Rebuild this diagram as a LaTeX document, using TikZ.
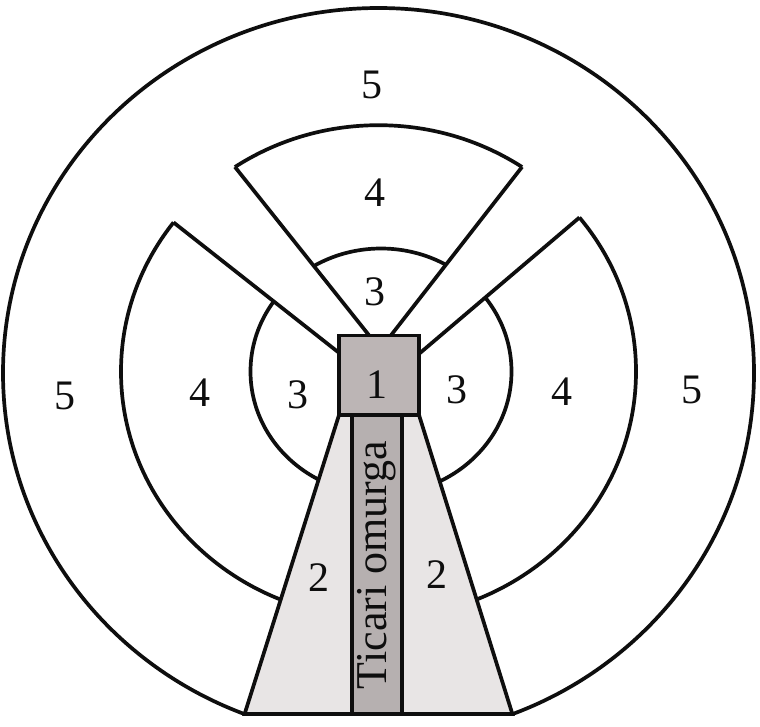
\documentclass[tikz,border=0pt]{standalone}
\usepackage{fontspec}
\setmainfont{Liberation Serif}
\definecolor{sqgray}{RGB}{188,181,181}
\definecolor{stripgray}{RGB}{182,176,176}
\definecolor{trapgray}{RGB}{232,229,229}
\definecolor{ink}{RGB}{14,14,14}
\begin{document}
\begin{tikzpicture}[x=1pt,y=-1pt,
  ln/.style={draw=ink, line width=3.7pt},
  spineline/.style={draw=ink, line width=4.2pt},
  lab/.style={inner sep=0pt, text=ink, font=\fontsize{42}{48}\selectfont},
  spinelab/.style={inner sep=0pt, text=ink, font=\fontsize{44}{50}\selectfont, rotate=90}
]
\useasboundingbox (0,0) rectangle (760,726);
\fill[white] (0,0) rectangle (760,726);
% outer ring (5)
\begin{scope}
  \clip (-10,-10) rectangle (770,714);
  \draw[ln] (378.5,373) ellipse [x radius=375.5, y radius=365];
\end{scope}
% arcs of rings 3 and 4 inside the three sectors
\begin{scope}
  \clip (380.1,349.2) -- (128.6,33.4) -- (626,33.4) -- cycle
        (354.5,365) -- (-25,66) -- (-25,900) -- (185.9,900) -- (339,415) -- cycle
        (404,366.6) -- (772,53.8) -- (800,53.8) -- (800,900) -- (570.5,900) -- (419,415) -- cycle;
  \draw[ln] (378.5,371.6) ellipse [x radius=257.5, y radius=246.4];
  \draw[ln] (381,371.5) ellipse [x radius=130.5, y radius=123];
\end{scope}
% sector edges
\begin{scope}
  \clip (378.5,371.6) ellipse [x radius=257.5, y radius=246.4];
  \draw[ln] (374.65,342.35) -- (195.1,116.9);
  \draw[ln] (385.5,342.35) -- (561,116.9);
  \draw[ln] (346.25,358.5) -- (123.5,183);
  \draw[ln] (412,359.8) -- (628,176.2);
\end{scope}
% region 2 (trapezoid)
\draw[ln, fill=trapgray, line join=miter] (339,415) -- (419,415) -- (512.4,714) -- (244.6,714) -- cycle;
% spine strip
\draw[spineline, fill=stripgray] (352,415) rectangle (402,714);
% region 1 square
\draw[ln, fill=sqgray] (339,335.5) rectangle (419,415);
% labels
\node[lab] (t5) at (372,85) {5};
\node[lab] (l5) at (65,396) {5};
\node[lab] (r5) at (692,390) {5};
\node[lab] (t4) at (375,193) {4};
\node[lab] (l4) at (200,393) {4};
\node[lab] (r4) at (562,392) {4};
\node[lab] (t3) at (375,292) {3};
\node[lab] (l3) at (298,395) {3};
\node[lab] (r3) at (457,390) {3};
\node[lab] (one) at (377,385) {1};
\node[lab] (l2) at (319,578) {2};
\node[lab] (r2) at (437,575) {2};
\node[spinelab] (spine) at (377,565) {Ticari omurga};
\end{tikzpicture}
\end{document}
